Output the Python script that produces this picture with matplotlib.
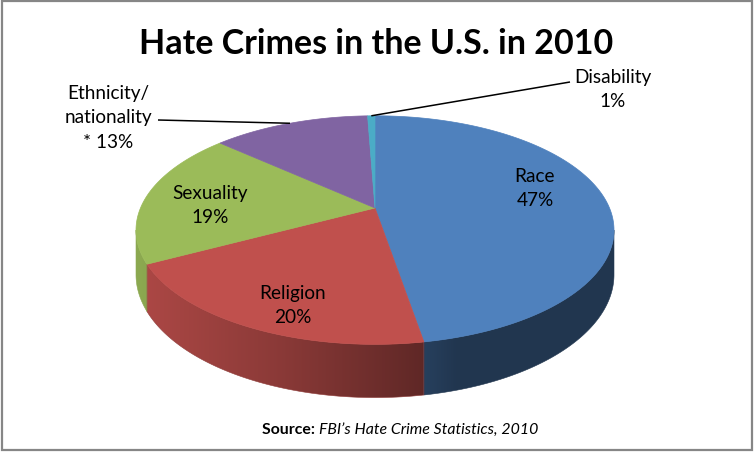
import numpy as np
import matplotlib
matplotlib.use("Agg")
import matplotlib.pyplot as plt
from matplotlib.patches import Polygon, Rectangle
from matplotlib.colors import to_rgb

# ---------------- data ----------------
categories = ["Race", "Religion", "Sexuality", "Ethnicity/\nnationality", "Disability"]
values = [47.3, 20.0, 19.3, 12.8, 0.6]
value_prefix = ["", "", "", "* ", ""]
top_colors = ["#4F81BD", "#C0504D", "#9BBB59", "#8064A2", "#4BACC6"]
title = "Hate Crimes in the U.S. in 2010"
source_bold = "Source:"
source_italic = "FBI\u2019s Hate Crime Statistics, 2010"

# ---------------- figure ----------------
W, H = 756, 456
fig = plt.figure(figsize=(W / 100, H / 100), dpi=100)
ax = fig.add_axes([0, 0, 1, 1])
ax.set_xlim(0, W)
ax.set_ylim(H, 0)
ax.axis("off")
FONT = ["Lato", "DejaVu Sans"]

# 3D pie geometry (pixel units), simple perspective model
CX, CY, A, B, P, D = 375, 209, 234.5, 110, 0.193, 43


def proj(theta_deg, r=1.0):
    t = np.radians(theta_deg)
    s = 1.0 / (1.0 + P * r * np.cos(t))
    x = CX + A * r * np.sin(t) * s
    y = CY - B * r * np.cos(t) * s
    return x, y, D * s


def shade(u):
    return np.interp(u, [-1.0, -0.4, 0.2, 0.35, 1.0], [0.9, 0.72, 0.5, 0.42, 0.42])


vals = np.array(values, dtype=float)
spans = vals / vals.sum() * 360.0
starts = np.concatenate([[0], np.cumsum(spans)[:-1]])
ends = starts + spans

th_sil = np.degrees(np.arccos(-P))
vis_lo, vis_hi = th_sil, 360 - th_sil

# ---- side walls (gradient images clipped to wall polygons) ----
xgrid = np.arange(0, W + 1)
ugrid = (xgrid + 0.5 - CX) / A
for st, en, c in zip(starts, ends, top_colors):
    lo, hi = max(st, vis_lo), min(en, vis_hi)
    if hi <= lo:
        continue
    ts = np.linspace(lo, hi, max(3, int((hi - lo) / 0.5) + 1))
    xs, ys, ds = proj(ts)
    pts = list(zip(xs, ys)) + list(zip(xs[::-1], (ys + ds)[::-1]))
    base = np.array(to_rgb(c))
    img = np.clip(base[None, None, :] * shade(ugrid)[None, :, None], 0, 1)
    wall = Polygon(pts, closed=True, facecolor="none", edgecolor="none")
    ax.add_patch(wall)
    im = ax.imshow(img, extent=(0, W + 1, H, 0), aspect="auto",
                   interpolation="bilinear", zorder=1)
    im.set_clip_path(wall)
    # soft edge along outline
    ax.add_patch(Polygon(pts, closed=True, facecolor="none",
                         edgecolor=tuple(base * shade(np.mean(xs - CX) / A)),
                         linewidth=0.4, zorder=1.5))

ax.set_xlim(0, W)
ax.set_ylim(H, 0)

# ---- top surface ----
for st, en, c in zip(starts, ends, top_colors):
    ts = np.linspace(st, en, max(3, int((en - st) / 0.5) + 1))
    xs, ys, _ = proj(ts)
    pts = [(CX, CY)] + list(zip(xs, ys))
    ax.add_patch(Polygon(pts, closed=True, facecolor=c, edgecolor=c,
                         linewidth=0.5, zorder=2))

# ---- labels ----
renderer = fig.canvas.get_renderer()

probe = ax.text(0, 0, "Sexuality", fontsize=14, family=FONT)
lab_fs = 14 * 76.0 / probe.get_window_extent(renderer).width
probe.remove()

label_lines = []
for cat, v, pre in zip(categories, values, value_prefix):
    label_lines.append(cat.split("\n") + [f"{pre}{v:.0f}%"])

label_x = [535, 293, 210, 108, 613]
label_y0 = [182, 299, 199, 99, 83]
PITCH = 24.5
for lines, lx, ly in zip(label_lines, label_x, label_y0):
    for i, ln in enumerate(lines):
        ax.text(lx, ly + i * PITCH, ln, ha="center", va="baseline",
                fontsize=lab_fs, family=FONT, color="black", zorder=5)

# leader lines (Ethnicity and Disability)
mid = (starts + ends) / 2
ex, ey, _ = proj(mid[3])
ax.plot([158, ex], [121, ey], color="black", lw=1.1, zorder=4,
        solid_capstyle="butt")
dx, dy, _ = proj(mid[4])
ax.plot([570, dx], [83, dy], color="black", lw=1.1, zorder=4,
        solid_capstyle="butt")

# ---- title ----
t = ax.text(376.5, 54, title, ha="center", va="baseline", fontsize=26,
            fontweight="bold", family=FONT, color="black")
t.set_fontsize(26 * 473.0 / t.get_window_extent(renderer).width)

# ---- source ----
src_fs = 12
sb = ax.text(262, 434, source_bold + " ", ha="left", va="baseline",
             fontsize=src_fs, fontweight="bold", family=FONT)
si = ax.text(0, 434, source_italic, ha="left", va="baseline",
             fontsize=src_fs, style="italic", family=FONT)
wb = sb.get_window_extent(renderer).width
wi = si.get_window_extent(renderer).width
k = 274.0 / (wb + wi)
src_fs *= k
sb.set_fontsize(src_fs)
si.set_fontsize(src_fs)
wb = sb.get_window_extent(renderer).width
si.set_x(262 + wb)

# ---- border ----
ax.add_patch(Rectangle((2, 2), 750, 449, fill=False, edgecolor="#868686",
                       linewidth=1.6, zorder=10))

fig.savefig("out.png", dpi=100)
